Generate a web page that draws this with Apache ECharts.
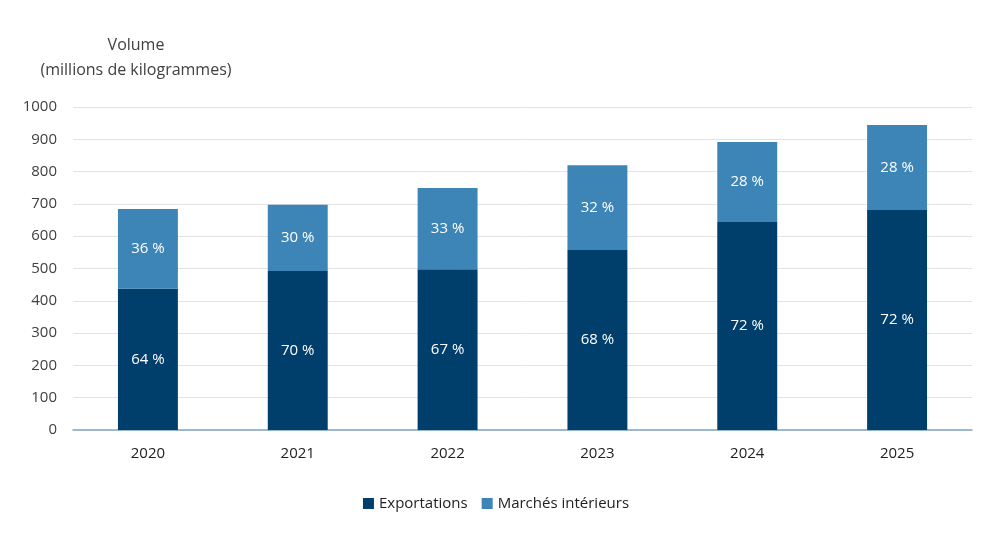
<!DOCTYPE html>
<html>
<head>
<meta charset="utf-8">
<script src="https://cdn.jsdelivr.net/npm/echarts@6/dist/echarts.min.js"></script>
<style>
  html, body { margin: 0; padding: 0; background: #fff; }
  #chart { width: 992px; height: 558px; }
</style>
</head>
<body>
<div id="chart"></div>
<script>
// années
const years = ['2020', '2021', '2022', '2023', '2024', '2025'];
// volumes (millions de kg)
const exportations = [437, 492, 498, 557, 644, 681];
const marchesInterieurs = [247, 205, 251, 263, 248, 263];
// parts affichées
const partExport = ['64 %', '70 %', '67 %', '68 %', '72 %', '72 %'];
const partInterieur = ['36 %', '30 %', '33 %', '32 %', '28 %', '28 %'];

const font = 'Open Sans';
let myChart = echarts.init(document.getElementById('chart'));

let labelStyle = {
  show: true,
  position: 'inside',
  color: '#fff',
  fontFamily: font,
  fontSize: 15
};

let option = {
  animation: false,
  textStyle: { fontFamily: font },
  title: {
    text: 'Volume\n(millions de kilogrammes)',
    left: 131,
    top: 28,
    textAlign: 'center',
    textStyle: {
      fontFamily: font,
      fontSize: 16,
      fontWeight: 'normal',
      color: '#404040',
      lineHeight: 25
    }
  },
  legend: {
    bottom: 42,
    left: 'center',
    icon: 'rect',
    itemWidth: 11,
    itemHeight: 11,
    itemGap: 14,
    textStyle: { fontFamily: font, fontSize: 15, color: '#222' },
    data: ['Exportations', 'Marchés intérieurs']
  },
  grid: {
    left: 73,
    right: 20,
    top: 107,
    bottom: 128
  },
  xAxis: {
    type: 'category',
    data: years,
    axisTick: { show: false },
    axisLine: { lineStyle: { color: '#7fa6c4', width: 1.5 } },
    axisLabel: { color: '#222', fontSize: 15, margin: 16, fontFamily: font }
  },
  yAxis: {
    type: 'value',
    min: 0,
    max: 1000,
    interval: 100,
    axisLine: { show: false },
    axisTick: { show: false },
    splitLine: { lineStyle: { color: '#e3e3e3' } },
    axisLabel: {
      color: '#404040', fontSize: 15, margin: 16, fontFamily: font,
      formatter: v => String(v)
    }
  },
  series: [{
    name: 'Exportations',
    type: 'bar',
    stack: 'total',
    barWidth: '40%',
    itemStyle: { color: '#003f6b' },
    label: Object.assign({}, labelStyle, {
      formatter: p => partExport[p.dataIndex]
    }),
    data: exportations
  }, {
    name: 'Marchés intérieurs',
    type: 'bar',
    stack: 'total',
    barWidth: '40%',
    itemStyle: { color: '#3c85b6' },
    label: Object.assign({}, labelStyle, {
      formatter: p => partInterieur[p.dataIndex]
    }),
    data: marchesInterieurs
  }]
};

myChart.setOption(option);
window.addEventListener('resize', () => {
  myChart.resize();
});
</script>
</body>
</html>
